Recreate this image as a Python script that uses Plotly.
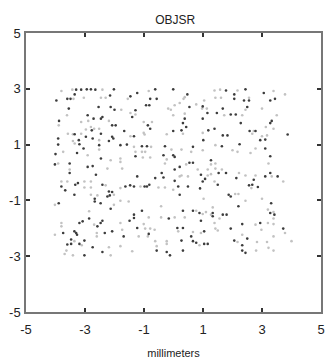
import plotly.graph_objects as go

# Sample positions (millimeters) – darker dots
dark_points = [
    (-3.30, 2.97), (-3.13, 2.97), (-2.94, 2.98), (-2.80, 2.98), (-2.65, 2.97), (-2.02, 2.98),
    (-3.35, 2.80), (-3.97, 2.58), (-3.60, 2.64), (-3.49, 2.64), (-2.15, 2.76), (-1.46, 2.73),
    (-3.55, 2.29), (-2.54, 2.35), (-2.13, 2.35), (-2.00, 2.25), (-2.91, 2.05), (-2.71, 1.93),
    (-2.46, 1.93), (-2.41, 1.99), (-3.88, 1.85), (-2.08, 1.69), (-1.96, 1.69), (-2.77, 1.51),
    (-3.35, 1.37), (-2.97, 1.28), (-2.74, 1.22), (-2.46, 1.39), (-2.08, 1.28), (-2.04, 1.22),
    (-1.67, 1.49), (-3.91, 1.22), (-3.21, 1.16), (-2.19, 1.13), (-3.91, 1.00), (-3.19, 1.01),
    (-2.52, 0.98), (-1.80, 0.98), (-1.58, 1.00), (-3.05, 0.86), (-3.27, 0.70), (-4.00, 0.66),
    (-2.46, 0.50), (-4.02, 0.29), (-3.52, 0.32), (-2.74, 0.23), (-2.91, 0.20),
    (-1.23, 2.85), (-0.62, 2.98), (-0.01, 2.98), (-0.79, 2.64), (-0.57, 2.64), (0.47, 2.80),
    (-0.93, 2.41), (-0.82, 2.41), (0.54, 2.35), (0.99, 2.37), (-1.29, 2.23), (0.38, 1.93),
    (1.15, 2.13), (0.99, 1.93), (-1.40, 1.99), (-0.87, 1.69), (-0.79, 1.57), (0.32, 1.77),
    (0.43, 1.63), (0.27, 1.51), (-0.01, 1.49), (1.18, 1.51), (-1.34, 1.30), (1.01, 1.16),
    (-0.29, 0.94), (0.66, 0.92), (-1.07, 0.94), (-0.90, 0.94), (-0.34, 0.62), (-0.01, 0.62),
    (-1.29, 0.58), (0.04, 0.56), (0.54, 0.35), (0.66, 0.35), (1.27, 0.44), (0.21, 0.20),
    (0.04, 0.11),
    (1.78, 2.94), (2.44, 2.98), (3.06, 2.85), (2.06, 2.80), (2.06, 2.64), (2.39, 2.58),
    (2.56, 2.58), (3.28, 2.58), (3.44, 2.64), (2.50, 2.35), (1.67, 2.29), (1.47, 2.13),
    (1.94, 2.08), (2.11, 2.08), (3.33, 1.85), (3.28, 1.77), (2.28, 1.77), (1.39, 1.57),
    (2.58, 1.49), (2.78, 1.49), (3.87, 1.36), (1.67, 1.33), (1.83, 1.33), (2.94, 1.16),
    (3.11, 1.18), (1.64, 0.94), (2.24, 1.01), (3.11, 0.86), (3.28, 0.58),
    (-3.52, -0.02), (-3.33, -0.44), (-3.24, -0.38), (-2.63, -0.08), (-2.41, -0.44), (-3.80, -0.50),
    (-3.67, -0.64), (-1.63, -0.50), (-1.47, -0.46), (-3.36, -0.80), (-2.67, -0.94), (-2.67, -1.04),
    (-2.47, -1.10), (-2.24, -0.86), (-2.16, -0.82), (-2.19, -0.68), (-2.08, -0.70), (-2.13, -1.30),
    (-3.89, -1.10), (-3.08, -1.75), (-2.86, -1.65), (-2.47, -1.81), (-2.58, -1.93), (-2.41, -1.73),
    (-3.19, -1.81), (-1.49, -1.73), (-2.08, -2.11), (-2.33, -2.17), (-3.36, -2.11), (-3.30, -2.17),
    (-3.27, -2.23), (-3.74, -2.17), (-1.69, -2.29), (-3.47, -2.40), (-3.02, -2.44), (-3.19, -2.56),
    (-3.60, -2.58), (-3.47, -2.56), (-2.74, -2.68), (-2.41, -2.85), (-3.02, -2.97),
    (-1.23, -0.14), (-1.34, -0.50), (-0.98, -0.50), (-0.90, -0.50), (-0.82, -0.44), (-0.62, -0.20),
    (-0.34, -0.18), (-0.40, -0.02), (0.04, -0.30), (0.16, -0.50), (0.49, -0.50), (0.21, -0.80),
    (0.90, -0.57), (0.93, -0.08), (0.99, -0.32), (1.07, -0.23), (-1.07, -1.37), (-1.34, -1.51),
    (-1.34, -1.63), (-0.16, -1.65), (0.32, -1.37), (0.66, -1.37), (0.88, -1.45), (0.93, -1.73),
    (-1.23, -1.99), (-0.84, -2.20), (0.13, -1.99), (0.32, -1.99), (1.04, -2.11), (0.60, -2.29),
    (0.66, -2.46), (0.77, -2.52), (0.27, -2.44), (1.04, -2.56), (1.16, -2.56), (-0.57, -2.80),
    (-0.23, -2.85), (0.32, -2.80), (-0.12, -2.97),
    (1.53, -0.02), (1.78, -0.02), (1.50, -0.44), (2.13, -0.20), (2.72, -0.26), (3.11, -0.14),
    (3.28, -0.02), (3.53, -0.14), (2.56, -0.46), (2.67, -0.44), (2.86, -0.52), (1.87, -0.80),
    (1.94, -0.86), (3.31, -1.10), (2.20, -1.21), (3.28, -1.45), (3.42, -1.51), (1.33, -1.45),
    (1.33, -1.57), (1.67, -1.51), (1.80, -1.51), (2.94, -1.81), (2.33, -1.85), (1.94, -2.01),
    (3.72, -2.01), (2.50, -2.37), (2.06, -2.44), (2.33, -2.61), (2.33, -2.80), (2.44, -2.88),
]

# Sample positions (millimeters) – lighter dots
light_points = [
    (-3.80, 2.92), (-3.43, 2.97), (-2.41, 2.97), (-3.39, 2.64), (-3.04, 2.68), (-2.46, 2.68),
    (-2.30, 2.68), (-1.55, 2.64), (-1.77, 2.25), (-1.46, 2.13), (-3.61, 2.05), (-3.13, 1.81),
    (-3.89, 1.69), (-2.89, 1.85), (-2.19, 1.85), (-2.80, 1.63), (-2.69, 1.57), (-2.52, 1.57),
    (-2.97, 1.54), (-3.58, 1.39), (-3.41, 1.37), (-3.13, 1.39), (-1.46, 1.30), (-3.41, 1.13),
    (-2.52, 1.16), (-3.35, 1.04), (-2.52, 0.82), (-3.74, 0.74), (-2.91, 0.62), (-1.80, 0.50),
    (-1.80, 0.38), (-2.13, 0.44), (-3.91, 0.32), (-3.52, 0.11), (-2.24, 0.14), (-1.74, 0.14),
    (-0.84, 2.92), (0.38, 2.70), (0.34, 2.64), (1.04, 2.58), (0.21, 2.49), (0.04, 2.41),
    (0.77, 2.44), (0.97, 2.29), (1.13, 2.29), (-1.29, 2.08), (-0.18, 2.29), (-0.09, 2.25),
    (-0.01, 2.05), (0.38, 2.11), (-1.01, 1.81), (-0.73, 1.81), (0.99, 1.42), (-1.01, 1.42),
    (-0.98, 1.36), (-0.23, 1.37), (0.32, 1.39), (-1.34, 0.92), (-0.76, 0.92), (-0.07, 0.82),
    (0.27, 0.82), (0.99, 0.80), (0.60, 0.74), (-1.29, 0.74), (-1.07, 0.74), (-0.96, 0.74),
    (-1.04, 0.54), (-0.79, 0.54), (-0.23, 0.47), (0.43, 0.29), (-0.29, 0.32), (1.27, 0.29),
    (0.82, 0.11), (1.16, 0.11),
    (1.39, 2.94), (1.58, 2.97), (2.17, 2.94), (3.39, 2.92), (3.78, 2.80), (1.42, 2.68),
    (1.61, 2.68), (2.56, 2.68), (2.44, 2.25), (3.00, 2.29), (1.72, 2.05), (2.33, 2.05),
    (3.50, 2.05), (3.13, 1.63), (3.39, 1.57), (2.72, 1.49), (2.67, 1.39), (3.00, 1.30),
    (3.17, 1.33), (1.42, 0.98), (2.78, 0.86), (2.00, 0.80), (2.17, 0.74), (2.61, 0.70),
    (3.22, 0.32), (1.42, 0.32), (1.42, 0.14), (1.64, 0.11),
    (-3.80, -0.32), (-3.60, -0.32), (-3.02, -0.32), (-2.80, -0.32), (-2.30, -0.46), (-3.02, -0.54),
    (-2.80, -0.54), (-1.80, -0.56), (-2.80, -0.80), (-2.58, -0.82), (-2.02, -0.80), (-2.02, -1.16),
    (-1.80, -1.01), (-1.52, -1.04), (-4.02, -1.16), (-2.86, -1.39), (-2.69, -1.87), (-3.80, -1.81),
    (-3.80, -1.93), (-1.80, -1.81), (-1.74, -2.05), (-2.60, -2.17), (-4.02, -2.23), (-2.60, -2.29),
    (-3.36, -2.46), (-3.11, -2.61), (-1.80, -2.64), (-2.19, -2.68), (-3.63, -2.80), (-3.69, -2.92),
    (-2.13, -2.97), (-3.41, -2.97),
    (-1.12, -0.50), (-0.51, -0.54), (-0.29, -0.54), (-0.01, -0.62), (0.21, -0.14), (0.49, -0.14),
    (0.27, -0.11), (1.16, -0.11), (1.27, -0.06), (1.02, -0.94), (-0.42, -1.21), (-0.84, -1.61),
    (-0.42, -1.61), (0.04, -1.61), (0.38, -1.61), (0.77, -1.37), (0.99, -1.49), (1.10, -1.42),
    (1.27, -1.51), (-1.01, -1.85), (-0.96, -2.01), (-0.79, -2.01), (-0.64, -2.05), (-1.18, -2.29),
    (-0.87, -2.29), (0.16, -2.11), (0.66, -2.13), (0.93, -2.17), (0.88, -2.61), (-0.62, -2.46),
    (-0.23, -2.46), (-0.23, -2.56), (-0.57, -2.64), (-1.40, -2.82),
    (2.22, -0.02), (1.39, -0.32), (2.44, -0.11), (2.78, -0.11), (3.33, -0.14), (3.72, -0.32),
    (2.64, -0.56), (2.09, -0.77), (2.20, -0.77), (2.44, -1.01), (3.00, -0.94), (1.33, -1.25),
    (3.20, -1.33), (3.39, -1.42), (1.56, -1.65), (3.39, -1.65), (2.78, -1.87), (2.98, -2.05),
    (3.20, -1.81), (3.39, -1.85), (1.39, -1.81), (1.42, -2.01), (1.50, -2.08), (3.78, -2.17),
    (2.33, -2.23), (2.17, -2.49), (2.83, -2.49), (3.17, -2.49), (3.39, -2.29), (4.00, -2.46),
    (3.22, -2.70), (2.80, -2.80), (3.39, -2.80),
]

tick_values = [-5, -3, -1, 1, 3, 5]
tick_labels = ["-5", "-3", "-1", "1", "3", "5"]

dark_x = [p[0] for p in dark_points]
dark_y = [p[1] for p in dark_points]
light_x = [p[0] for p in light_points]
light_y = [p[1] for p in light_points]

FONT = "Liberation Sans, Arial, sans-serif"

fig = go.Figure()
fig.add_trace(go.Scatter(
    x=light_x, y=light_y, mode="markers",
    marker=dict(symbol="circle", size=2.6, color="#c2c2c2", line=dict(width=0)),
    hoverinfo="skip", showlegend=False,
))
fig.add_trace(go.Scatter(
    x=dark_x, y=dark_y, mode="markers",
    marker=dict(symbol="circle", size=2.6, color="#3c3c3c", line=dict(width=0)),
    hoverinfo="skip", showlegend=False,
))

axis_common = dict(
    range=[-5, 5],
    tickmode="array",
    tickvals=tick_values,
    ticktext=tick_labels,
    ticks="inside",
    ticklen=4,
    tickwidth=1.5,
    tickcolor="#333",
    showline=True,
    linecolor="#777",
    linewidth=1.5,
    mirror="ticks",
    showgrid=False,
    zeroline=False,
    tickfont=dict(family=FONT, size=13, color="#222"),
)

fig.update_layout(
    width=329,
    height=362,
    margin=dict(l=26, r=4, t=33, b=49),
    paper_bgcolor="white",
    plot_bgcolor="white",
    title=dict(
        text="OBJSR",
        x=0.5325, xanchor="center",
        y=1 - 20 / 362, yanchor="middle",
        font=dict(family=FONT, size=12, color="#222"),
    ),
    xaxis=dict(
        **axis_common,
        ticklabelstandoff=5,
        title=dict(text="millimeters", standoff=13,
                   font=dict(family=FONT, size=11, color="#222")),
    ),
    yaxis=dict(**axis_common, ticklabelstandoff=1),
)

fig.write_html("out.html")
